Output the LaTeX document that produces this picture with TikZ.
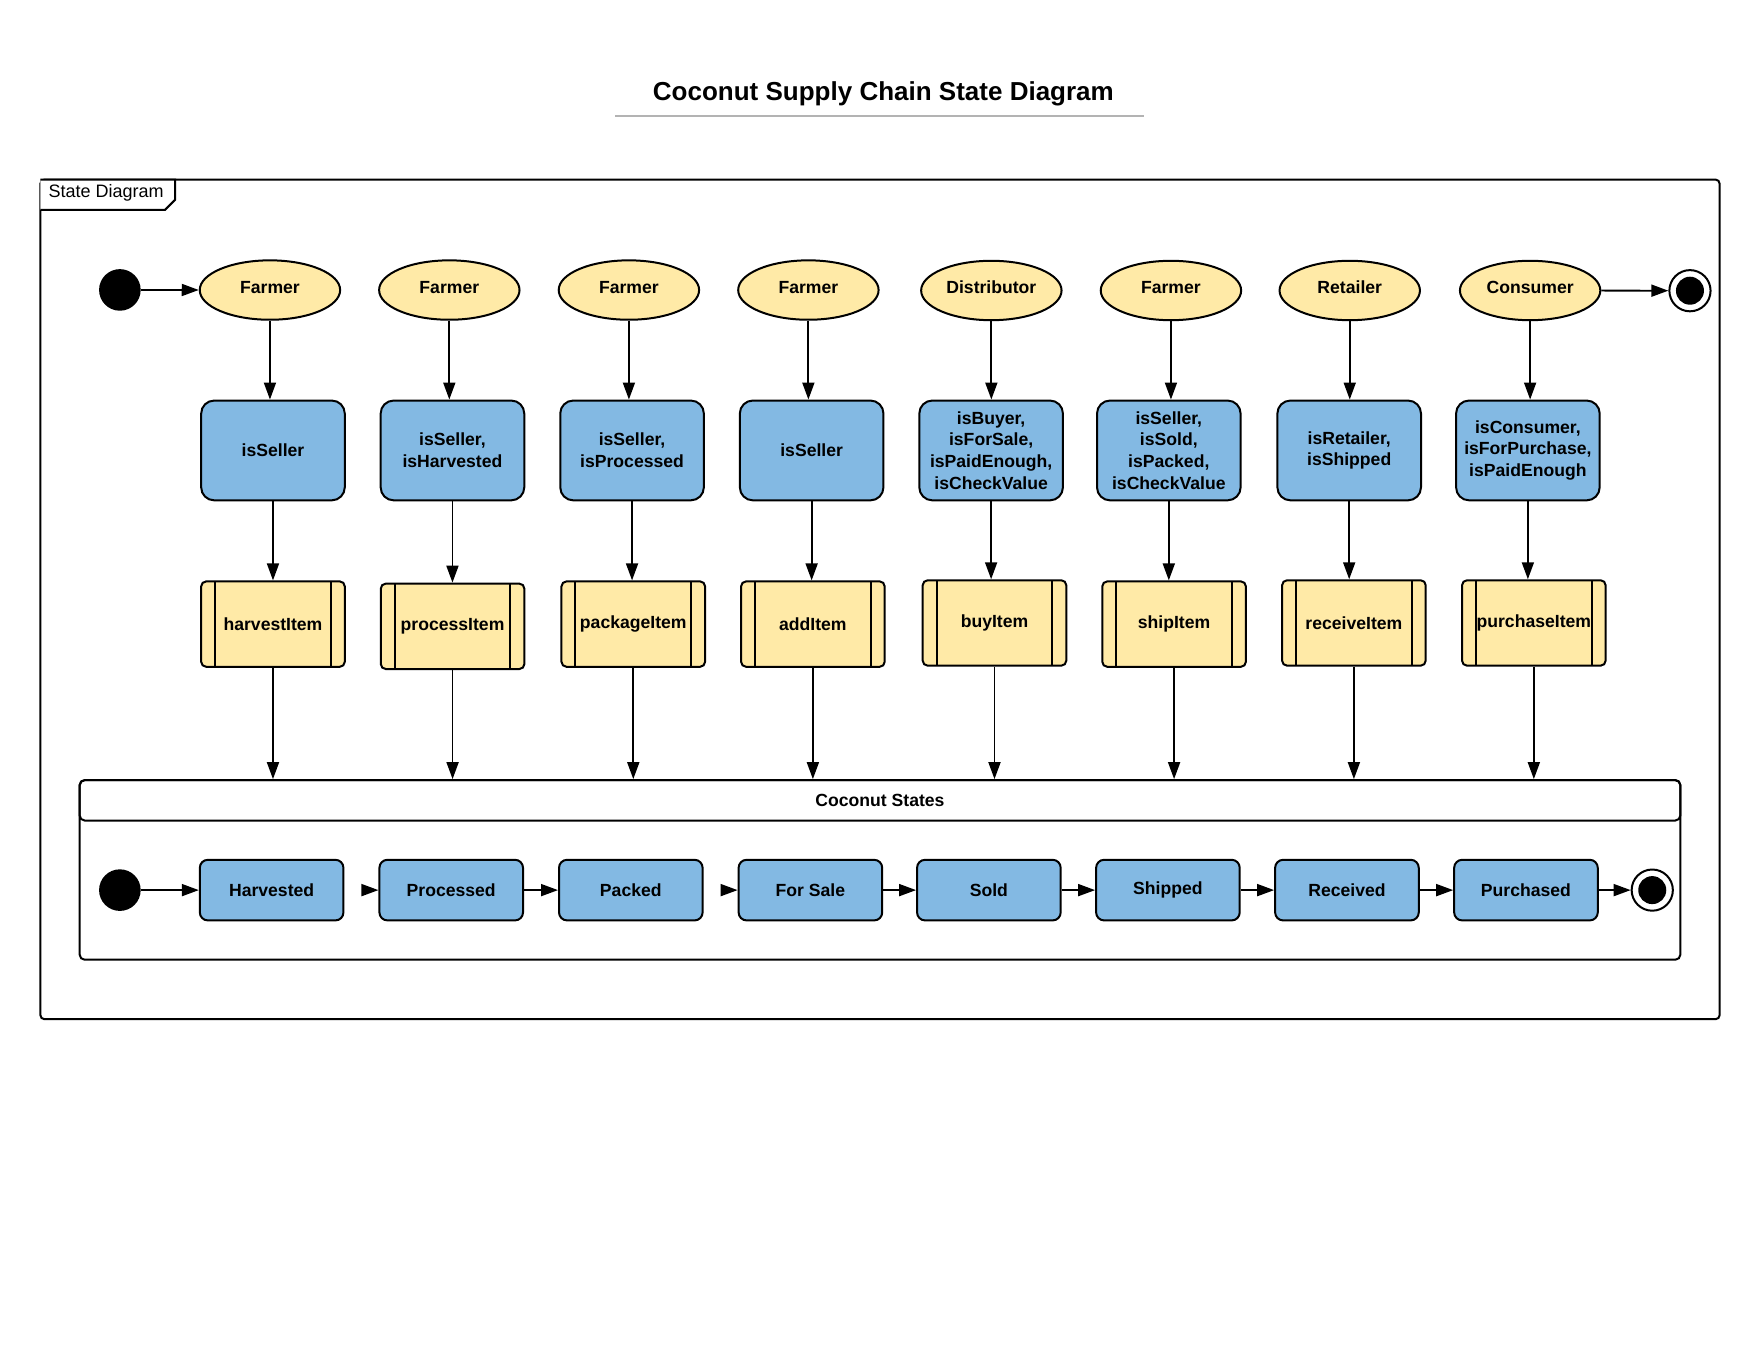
\documentclass[tikz,border=0pt]{standalone}
\usepackage{fontspec}
\setmainfont{Liberation Sans}
\usetikzlibrary{arrows.meta,shapes.geometric}
\definecolor{ylw}{HTML}{FFEAA7}
\definecolor{blu}{HTML}{83B9E3}
\definecolor{uline}{HTML}{B3B3B3}
\begin{document}
\begin{tikzpicture}[x=0.5612pt,y=-0.5612pt,
  txt/.style={font=\bfseries\fontsize{8.8}{10.8}\selectfont, text=black},
  actor/.style={txt, ellipse, draw, line width=1pt, fill=ylw, minimum width=70.2pt, minimum height=29.7pt, inner sep=0pt, text height=6.4pt, text depth=3.4pt},
  guard/.style={txt, rectangle, draw, line width=1pt, fill=blu, rounded corners=6.5pt, minimum width=71.8pt, minimum height=49.9pt, inner sep=1pt, align=center},
  proc/.style={txt, rectangle, draw, line width=1pt, fill=ylw, rounded corners=2.5pt, minimum width=71.8pt, minimum height=42.7pt, inner sep=0pt,
    path picture={\draw[line width=1pt] ([xshift=7pt]path picture bounding box.north west) -- ([xshift=7pt]path picture bounding box.south west);
                  \draw[line width=1pt] ([xshift=-7pt]path picture bounding box.north east) -- ([xshift=-7pt]path picture bounding box.south east);}},
  statebox/.style={txt, rectangle, draw, line width=1pt, fill=blu, rounded corners=4pt, minimum width=71.8pt, minimum height=30.3pt, inner sep=0pt},
  initial/.style={circle, fill=black, minimum size=20.8pt, inner sep=0pt},
  final/.style={circle, draw, line width=1pt, fill=white, minimum size=20.6pt, inner sep=0pt,
    path picture={\fill[black] (path picture bounding box.center) circle (7pt);}},
  arr/.style={-{Triangle[length=8.5pt,width=6pt]}, line width=0.9pt},
  headarr/.style={arr, shorten <=8.6pt}]
\useasboundingbox (0,0) rectangle (1568,1211.7);
\fill[white] (0,0) rectangle (1568,1211.7);

% title
\node[font=\bfseries\fontsize{13}{15}\selectfont] (title) at (787,83.5) {Coconut Supply Chain State Diagram};
\draw[line width=1pt, uline] (548,103) -- (1019,103);

% outer frame
\draw[line width=1pt, rounded corners=2pt] (36,160) rectangle (1532,908);
\draw[line width=1pt, fill=white] (36,160) -- (156,160) -- (156,178) -- (147,187) -- (36,187);
\node[anchor=west, font=\fontsize{9}{11}\selectfont, inner sep=0pt] (tab) at (43,172) {State Diagram};

% top row
\node[initial] (i1) at (106.8,258.3) {};
\node[actor] (e1) at (240.5,258.4) {Farmer};
\node[actor] (e2) at (400.3,258.4) {Farmer};
\node[actor] (e3) at (560.3,258.4) {Farmer};
\node[actor] (e4) at (720.2,258.4) {Farmer};
\node[actor] (e5) at (883.2,258.8) {Distributor};
\node[actor] (e6) at (1043.2,258.8) {Farmer};
\node[actor] (e7) at (1202.5,258.8) {Retailer};
\node[actor] (e8) at (1363.2,258.8) {Consumer};
\node[final] (f1) at (1505.6,259) {};

% guards
\node[guard] (g1) at (243.2,401.3) {isSeller};
\node[guard] (g2) at (403.1,401.3) {isSeller,\\isHarvested};
\node[guard] (g3) at (563.1,401.3) {isSeller,\\isProcessed};
\node[guard] (g4) at (723.1,401.3) {isSeller};
\node[guard] (g5) at (883,401.3) {isBuyer,\\isForSale,\\isPaidEnough,\\isCheckValue};
\node[guard] (g6) at (1041.3,401.3) {isSeller,\\isSold,\\isPacked,\\isCheckValue};
\node[guard] (g7) at (1202,401.3) {isRetailer,\\isShipped};
\node[guard] (g8) at (1361.2,401.3) {isConsumer,\\isForPurchase,\\isPaidEnough};

% processes
\node[proc] (p1) at (243.2,556) {harvestItem};
\node[proc] (p2) at (403.2,558) {processItem};
\node[proc] (p3) at (564.2,556) {packageItem};
\node[proc] (p4) at (724.2,556) {addItem};
\node[proc] (p5) at (886,555) {buyItem};
\node[proc] (p6) at (1046,556) {shipItem};
\node[proc] (p7) at (1206.2,555) {receiveItem};
\node[proc] (p8) at (1366.5,555) {purchaseItem};

% container
\node[draw, line width=1pt, rounded corners=2.5pt, minimum width=800.3pt, minimum height=89.8pt, inner sep=0pt] (cont) at (784,775) {};
\node[txt, draw, line width=1pt, rounded corners=2.5pt, minimum width=800.3pt, minimum height=20.2pt, inner sep=0pt] (hdr) at (784,713) {Coconut States};

% bottom row
\node[initial] (i2) at (106.8,793) {};
\node[statebox] (s1) at (242,793) {Harvested};
\node[statebox] (s2) at (402,793) {Processed};
\node[statebox] (s3) at (562,793) {Packed};
\node[statebox] (s4) at (722,793) {For Sale};
\node[statebox] (s5) at (881,793) {Sold};
\node[statebox] (s6) at (1040.5,793) {Shipped};
\node[statebox] (s7) at (1200,793) {Received};
\node[statebox] (s8) at (1359.5,793) {Purchased};
\node[final] (f2) at (1472,793) {};

% connectors
\draw[arr] (i1) -- (e1);
\draw[arr] (e8) -- (f1);
\foreach \k in {1,...,8}{
  \draw[arr] (e\k.south) -- (e\k.south |- g\k.north);
  \draw[arr] (g\k.south) -- (g\k.south |- p\k.north);
  \draw[arr] (p\k.south) -- (p\k.south |- hdr.north);
}
\draw[arr] (i2) -- (s1);
\draw[headarr] (s1) -- (s2);
\draw[arr] (s2) -- (s3);
\draw[headarr] (s3) -- (s4);
\draw[arr] (s4) -- (s5);
\draw[arr] (s5) -- (s6);
\draw[arr] (s6) -- (s7);
\draw[arr] (s7) -- (s8);
\draw[arr] (s8) -- (f2);
\end{tikzpicture}
\end{document}
